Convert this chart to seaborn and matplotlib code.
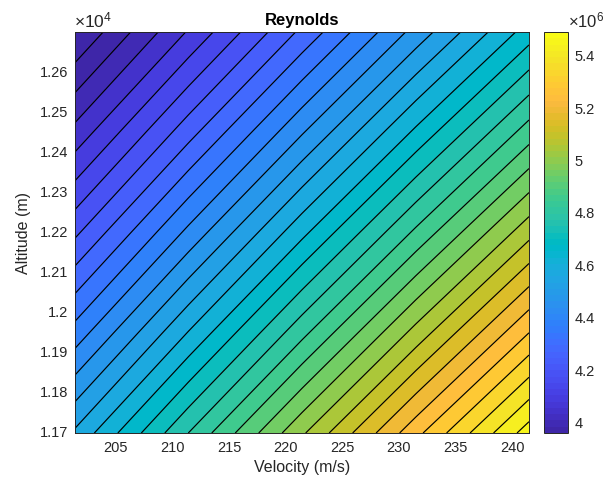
import numpy as np
import matplotlib
matplotlib.use("Agg")
import matplotlib.pyplot as plt
import seaborn as sns
from matplotlib.colors import ListedColormap, Normalize
from matplotlib.ticker import FuncFormatter, FixedLocator
import matplotlib.cm as cm

# ---- data ----
velocity = [201.4, 211.4, 221.45, 231.5, 241.5]          # m/s
altitude = [11695, 11945.5, 12196, 12446.5, 12697]       # m
# Reynolds number (x 1e6), rows follow altitude, columns follow velocity
re_row_0 = [4.5759, 4.8031, 5.0315, 5.2598, 5.4870]
re_row_1 = [4.3986, 4.6170, 4.8365, 5.0560, 5.2744]
re_row_2 = [4.2281, 4.4381, 4.6491, 4.8601, 5.0700]
re_row_3 = [4.0643, 4.2661, 4.4689, 4.6717, 4.8735]
re_row_4 = [3.9068, 4.1007, 4.2958, 4.4907, 4.6847]
first_level = 3.955
level_step = 0.047125
n_levels = 33
color_limits = [3.956, 5.487]
x_ticks = [205, 210, 215, 220, 225, 230, 235, 240]
y_ticks = [11700, 11800, 11900, 12000, 12100, 12200, 12300, 12400, 12500, 12600]
cbar_ticks = [4.0, 4.2, 4.4, 4.6, 4.8, 5.0, 5.2, 5.4]

parula_data = [
    [0.2422, 0.1504, 0.6603], [0.2504, 0.1650, 0.7076], [0.2578, 0.1818, 0.7511],
    [0.2647, 0.1978, 0.7952], [0.2706, 0.2147, 0.8364], [0.2751, 0.2342, 0.8710],
    [0.2783, 0.2559, 0.8991], [0.2803, 0.2782, 0.9221], [0.2813, 0.3006, 0.9414],
    [0.2810, 0.3228, 0.9579], [0.2795, 0.3447, 0.9717], [0.2760, 0.3667, 0.9829],
    [0.2699, 0.3892, 0.9906], [0.2602, 0.4123, 0.9952], [0.2440, 0.4358, 0.9988],
    [0.2206, 0.4603, 0.9973], [0.1963, 0.4847, 0.9892], [0.1834, 0.5074, 0.9798],
    [0.1786, 0.5289, 0.9682], [0.1764, 0.5499, 0.9520], [0.1687, 0.5703, 0.9359],
    [0.1540, 0.5902, 0.9218], [0.1460, 0.6091, 0.9079], [0.1380, 0.6276, 0.8973],
    [0.1248, 0.6459, 0.8883], [0.1113, 0.6635, 0.8763], [0.0952, 0.6798, 0.8598],
    [0.0689, 0.6948, 0.8394], [0.0297, 0.7082, 0.8163], [0.0036, 0.7203, 0.7917],
    [0.0067, 0.7312, 0.7660], [0.0433, 0.7411, 0.7394], [0.0964, 0.7500, 0.7120],
    [0.1408, 0.7584, 0.6842], [0.1717, 0.7670, 0.6554], [0.1938, 0.7758, 0.6251],
    [0.2161, 0.7843, 0.5923], [0.2470, 0.7918, 0.5567], [0.2906, 0.7973, 0.5188],
    [0.3406, 0.8008, 0.4789], [0.3909, 0.8029, 0.4354], [0.4456, 0.8024, 0.3909],
    [0.5044, 0.7993, 0.3480], [0.5616, 0.7942, 0.3045], [0.6174, 0.7876, 0.2612],
    [0.6720, 0.7793, 0.2227], [0.7242, 0.7698, 0.1910], [0.7738, 0.7598, 0.1646],
    [0.8203, 0.7498, 0.1535], [0.8634, 0.7406, 0.1596], [0.9035, 0.7330, 0.1774],
    [0.9393, 0.7288, 0.2100], [0.9728, 0.7298, 0.2394], [0.9956, 0.7434, 0.2371],
    [0.9970, 0.7659, 0.2199], [0.9952, 0.7893, 0.2028], [0.9892, 0.8136, 0.1885],
    [0.9786, 0.8386, 0.1766], [0.9676, 0.8639, 0.1643], [0.9610, 0.8890, 0.1537],
    [0.9597, 0.9135, 0.1423], [0.9628, 0.9373, 0.1265], [0.9691, 0.9606, 0.1064],
    [0.9769, 0.9839, 0.0805]]

# ---- style ----
sns.set_style("white")
plt.rcParams['font.family'] = ['Liberation Sans', 'DejaVu Sans']
plt.rcParams['mathtext.fontset'] = 'custom'
plt.rcParams['mathtext.rm'] = 'Liberation Sans'
plt.rcParams['mathtext.it'] = 'Liberation Sans'
plt.rcParams['mathtext.bf'] = 'Liberation Sans:bold'
txt_col = (0.15, 0.15, 0.15)

parula = ListedColormap(parula_data, name="parula")
V, Hh = np.meshgrid(np.array(velocity), np.array(altitude))
Z = np.array([re_row_0, re_row_1, re_row_2, re_row_3, re_row_4])
zmin, zmax = Z.min(), Z.max()
norm = Normalize(vmin=color_limits[0], vmax=color_limits[1], clip=True)

fig = plt.figure(figsize=(6.04, 4.89), dpi=100)
ax = fig.add_axes([75 / 604, 1 - 434 / 489, 454 / 604, 401 / 489])
cax = fig.add_axes([544 / 604, 1 - 434 / 489, 24 / 604, 401 / 489])

levels = [first_level + i * level_step for i in range(n_levels)]
inner = [l for l in levels if zmin < l < zmax]
full_levels = [zmin] + inner + [zmax]
fill_colors = [parula(norm(l)) for l in full_levels[:-1]]
ax.contourf(V, Hh, Z, levels=full_levels, colors=fill_colors)
ax.contour(V, Hh, Z, levels=inner, colors='black', linewidths=0.85)

ax.set_xlim(velocity[0], velocity[-1])
ax.set_ylim(altitude[0], altitude[-1])
ax.xaxis.set_major_locator(FixedLocator(x_ticks))
ax.yaxis.set_major_locator(FixedLocator(y_ticks))
ax.yaxis.set_major_formatter(FuncFormatter(lambda v, p: f"{v / 1e4:g}"))
ax.tick_params(direction='in', length=4, width=0.6, top=True, right=True,
               labelsize=10.5, colors=txt_col, labelcolor=txt_col, pad=5)
for s in ax.spines.values():
    s.set_color(txt_col)
    s.set_linewidth(0.7)
ax.set_xlabel("Velocity (m/s)", fontsize=11.5, color=txt_col, labelpad=4)
ax.set_ylabel("Altitude (m)", fontsize=11.5, color=txt_col, labelpad=6)
ax.set_title("Reynolds", fontsize=12, fontweight='bold', color='black', pad=6)
fig.text(74 / 604, 1 - 20 / 489, r"$\times10^{4}$", fontsize=12.5, color=txt_col,
         ha='left', va='center')

sm = cm.ScalarMappable(norm=norm, cmap=parula)
cb = fig.colorbar(sm, cax=cax)
cb.set_ticks(cbar_ticks)
cb.ax.yaxis.set_major_formatter(FuncFormatter(lambda v, p: f"{v:g}"))
cb.ax.tick_params(direction='in', length=4, width=0.6, labelsize=10.5,
                  colors=txt_col, labelcolor=txt_col, pad=5)
cb.outline.set_edgecolor(txt_col)
cb.outline.set_linewidth(0.7)
fig.text(568 / 604, 1 - 20 / 489, r"$\times10^{6}$", fontsize=12, color=txt_col,
         ha='left', va='center')

fig.savefig("out.png", dpi=100, facecolor='white')
